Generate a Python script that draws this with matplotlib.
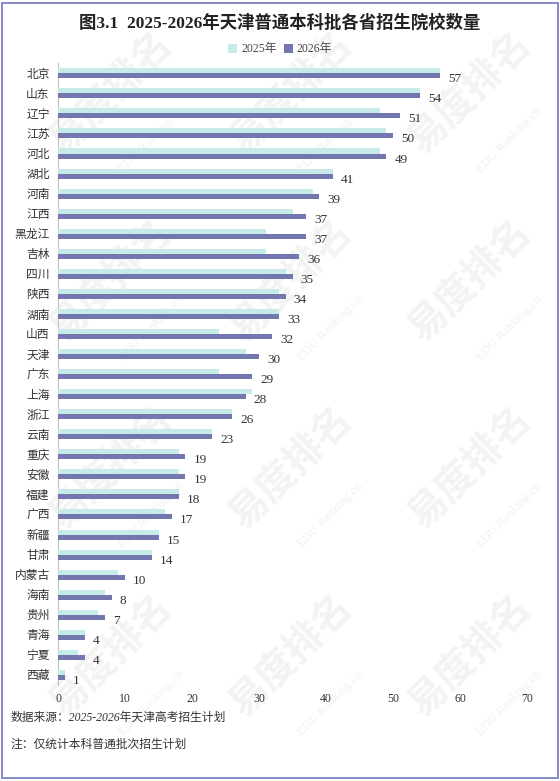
import numpy as np
import matplotlib
matplotlib.use("Agg")
import matplotlib.pyplot as plt
from matplotlib.patches import Rectangle

plt.rcParams['font.family'] = ['Liberation Serif', 'Noto Sans CJK SC']

provinces = ['北京', '山东', '辽宁', '江苏', '河北', '湖北', '河南', '江西', '黑龙江', '吉林',
             '四川', '陕西', '湖南', '山西', '天津', '广东', '上海', '浙江', '云南', '重庆',
             '安徽', '福建', '广西', '新疆', '甘肃', '内蒙古', '海南', '贵州', '青海', '宁夏', '西藏']
v2025 = [57, 54, 48, 49, 48, 41, 38, 35, 31, 31,
         34, 33, 33, 24, 28, 24, 29, 26, 23, 18,
         18, 18, 16, 15, 14, 9, 7, 6, 4, 3, 1]
v2026 = [57, 54, 51, 50, 49, 41, 39, 37, 37, 36,
         35, 34, 33, 32, 30, 29, 28, 26, 23, 19,
         19, 18, 17, 15, 14, 10, 8, 7, 4, 4, 1]

c25 = '#c6ebe8'
c26 = '#7377b0'

fig = plt.figure(figsize=(5.6, 7.81), dpi=100)

# watermark in a background axes
bg = fig.add_axes([0, 0, 1, 1], zorder=-1)
bg.set_xlim(0, 1)
bg.set_ylim(0, 1)
bg.axis('off')
for yy in [0.88, 0.64, 0.40, 0.16]:
    for xx in [0.20, 0.52, 0.84]:
        bg.text(xx, yy, '易度排名', rotation=45, fontsize=28, color='#f3f3f3',
                ha='center', va='center', family='Noto Sans CJK SC', fontweight='bold')
        bg.text(xx + 0.07, yy - 0.06, 'EDU Ranking.cn', rotation=45, fontsize=9, color='#f1f1f1',
                ha='center', va='center')
bg.add_patch(Rectangle((0.004, 0.004), 0.992, 0.992, fill=False,
                       edgecolor='#7d80bf', linewidth=1.3))

ax = fig.add_axes([0.1036, 0.123, 0.8375, 0.796])
ax.patch.set_alpha(0)
y = np.arange(len(provinces))
h = 0.25
ax.barh(y - h / 2, v2025, height=h, color=c25, label='2025年', zorder=3)
ax.barh(y + h / 2, v2026, height=h, color=c26, label='2026年', zorder=3)

for i, v in enumerate(v2026):
    ax.text(v + 1.2, y[i] + 0.3, str(v), va='center', ha='left', fontsize=9.5, color='#333333')

ax.set_xlim(0, 70)
ax.set_ylim(len(provinces) - 0.5, -0.5)
ax.set_yticks(y)
ax.set_yticklabels(provinces, fontsize=8.5, color='#333333')
ax.set_xticks(np.arange(0, 71, 10))
ax.tick_params(axis='x', length=0, labelsize=8.5, labelcolor='#333333', pad=6)
ax.tick_params(axis='y', length=0, pad=6)
for s in ['top', 'right', 'bottom']:
    ax.spines[s].set_visible(False)
ax.spines['left'].set_color('#bfbfbf')

fig.text(0.5, 0.971, '图3.1  2025-2026年天津普通本科批各省招生院校数量', ha='center', va='center',
         fontsize=12.5, fontweight='bold', family=['Liberation Serif', 'Noto Sans CJK SC'], color='#222222')
fig.legend(loc='center', bbox_to_anchor=(0.5, 0.937), ncol=2, frameon=False, fontsize=8.5,
           handlelength=0.8, handleheight=0.8, handletextpad=0.3, columnspacing=0.6,
           labelcolor='#444444')

fig.text(0.018, 0.081, '数据来源：2025-2026年天津高考招生计划', fontsize=8.5, style='italic',
         color='#333333', va='center')
fig.text(0.018, 0.046, '注：仅统计本科普通批次招生计划', fontsize=8.5, style='italic',
         color='#333333', va='center')

fig.savefig('out.png', dpi=100)
